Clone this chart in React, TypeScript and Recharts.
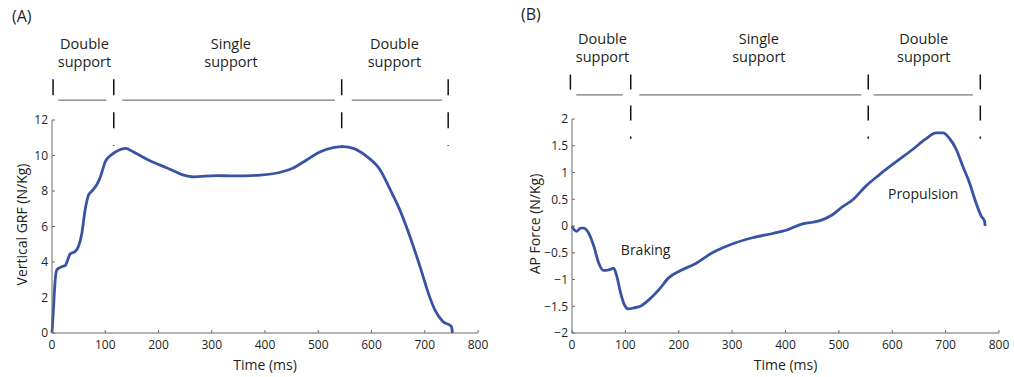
import { LineChart, Line, XAxis, YAxis, ReferenceLine, ReferenceDot } from "recharts";

const FONT = "'Open Sans', sans-serif";
const LINE_COLOR = "#3953a4";
const AXIS_COLOR = "#6b6b6b";
const TEXT_COLOR = "#231f20";

// (A) vertical ground reaction force
const grfTime = [0, 3, 6, 9, 13, 19, 25, 28, 34, 44, 50, 56, 62, 69, 75, 84, 91, 100, 112, 125, 138, 153, 184, 216, 247, 266, 309, 341, 391, 434, 453, 478, 503, 528, 547, 566, 591, 616, 634, 653, 672, 691, 709, 719, 734, 750, 752];
const grfValue = [0, 1.5, 3.0, 3.55, 3.65, 3.75, 3.8, 4.0, 4.45, 4.6, 4.9, 5.6, 6.9, 7.8, 8.0, 8.35, 8.8, 9.65, 10.05, 10.3, 10.4, 10.2, 9.7, 9.3, 8.9, 8.8, 8.87, 8.85, 8.9, 9.1, 9.3, 9.75, 10.2, 10.45, 10.5, 10.4, 9.95, 9.2, 8.15, 6.95, 5.45, 3.75, 2.05, 1.3, 0.65, 0.37, 0];

// (B) anterior-posterior force
const apTime = [0, 3, 9, 16, 22, 31, 41, 50, 59, 69, 78, 84, 91, 99, 106, 116, 128, 144, 163, 181, 200, 232, 263, 294, 338, 376, 401, 432, 451, 470, 488, 507, 526, 551, 576, 607, 638, 663, 682, 695, 707, 720, 732, 745, 757, 767, 773, 774];
const apValue = [0, -0.06, -0.1, -0.04, -0.04, -0.13, -0.38, -0.69, -0.83, -0.82, -0.79, -0.94, -1.25, -1.49, -1.55, -1.53, -1.5, -1.38, -1.19, -0.97, -0.85, -0.7, -0.5, -0.36, -0.22, -0.14, -0.08, 0.04, 0.07, 0.12, 0.21, 0.36, 0.49, 0.75, 0.96, 1.2, 1.43, 1.63, 1.74, 1.74, 1.64, 1.43, 1.12, 0.8, 0.43, 0.18, 0.09, 0];

const timeTicks = [0, 100, 200, 300, 400, 500, 600, 700, 800];
const grfTicks = [0, 2, 4, 6, 8, 10, 12];
const apTicks = [-2, -1.5, -1, -0.5, 0, 0.5, 1, 1.5, 2];

const phaseNames = [
  ["Double", "support"],
  ["Single", "support"],
  ["Double", "support"],
];
const grfPhaseEdges = [2, 116, 544, 744];
const grfPhaseBars = [[12, 102], [132, 531], [563, 732]];
const grfPhaseCenters = [61, 336, 643];
const apPhaseEdges = [-3, 110, 555, 765];
const apPhaseBars = [[8, 95], [126, 542], [565, 751]];
const apPhaseCenters = [57, 350, 659];

const grfData = grfTime.map((t, i) => ({ t, v: grfValue[i] }));
const apData = apTime.map((t, i) => ({ t, v: apValue[i] }));

const minus = (v: number) => (v < 0 ? "\u2212" + Math.abs(v) : String(v));

function yTitle(text: string, dx: number) {
  return (props: any) => {
    const vb = props.viewBox || {};
    const x = (vb.x ?? 0) + dx;
    const y = (vb.y ?? 0) + (vb.height ?? 0) / 2 - 2;
    return (
      <text
        transform={`translate(${x},${y}) rotate(-90)`}
        textAnchor="middle"
        dominantBaseline="central"
        fontFamily={FONT}
        fontSize={14}
        fill={TEXT_COLOR}
      >
        {text}
      </text>
    );
  };
}

function xTitle(text: string) {
  return (props: any) => {
    const vb = props.viewBox || {};
    const x = (vb.x ?? 0) + (vb.width ?? 0) / 2;
    const y = (vb.y ?? 0) + 37;
    return (
      <text x={x} y={y} textAnchor="middle" fontFamily={FONT} fontSize={14} fill={TEXT_COLOR}>
        {text}
      </text>
    );
  };
}

function phaseText(lines: string[]) {
  return (props: any) => {
    const vb = props.viewBox || {};
    const cx = (vb.x ?? 0) + (vb.width ?? 0) / 2;
    const cy = (vb.y ?? 0) + (vb.height ?? 0) / 2;
    return (
      <text textAnchor="middle" fontFamily={FONT} fontSize={14.5} fill={TEXT_COLOR}>
        <tspan x={cx} y={cy - 51}>{lines[0]}</tspan>
        <tspan x={cx} y={cy - 33}>{lines[1]}</tspan>
      </text>
    );
  };
}

type PanelProps = {
  data: { t: number; v: number }[];
  yTicks: number[];
  yLabel: string;
  yLabelDx: number;
  width: number;
  margin: { top: number; right: number; bottom: number; left: number };
  edges: number[];
  bars: number[][];
  centers: number[];
  barY: number;
  markTop: number;
  markBottom: number;
  firstBottom: number;
  dash: string;
  notes?: { x: number; y: number; text: string }[];
};

function Panel(p: PanelProps) {
  const yMin = p.yTicks[0];
  const yMax = p.yTicks[p.yTicks.length - 1];
  return (
    <LineChart width={p.width} height={377} data={p.data} margin={p.margin}>
      <XAxis
        dataKey="t"
        type="number"
        domain={[0, 800]}
        ticks={timeTicks}
        stroke={AXIS_COLOR}
        tickSize={-3}
        tickMargin={10}
        height={30}
        tick={{ fontFamily: FONT, fontSize: 12, fill: TEXT_COLOR }}
        label={xTitle("Time (ms)")}
      />
      <YAxis
        type="number"
        domain={[yMin, yMax]}
        ticks={p.yTicks}
        stroke={AXIS_COLOR}
        tickSize={-3}
        tickMargin={7}
        width={40}
        tickFormatter={minus}
        tick={{ fontFamily: FONT, fontSize: 12, fill: TEXT_COLOR }}
        label={yTitle(p.yLabel, p.yLabelDx)}
      />
      {p.edges.map((e, i) => (
        <ReferenceLine
          key={"e" + i}
          segment={[{ x: e, y: p.markTop }, { x: e, y: i === 0 ? p.firstBottom : p.markBottom }]}
          stroke="#111"
          strokeWidth={1.5}
          strokeDasharray={p.dash}
          ifOverflow="visible"
        />
      ))}
      {p.bars.map((b, i) => (
        <ReferenceLine
          key={"b" + i}
          segment={[{ x: b[0], y: p.barY }, { x: b[1], y: p.barY }]}
          stroke="#555"
          strokeWidth={1}
          ifOverflow="visible"
        />
      ))}
      {p.centers.map((c, i) => (
        <ReferenceDot
          key={"c" + i}
          x={c}
          y={p.barY}
          r={0}
          fill="none"
          stroke="none"
          ifOverflow="visible"
          label={phaseText(phaseNames[i])}
        />
      ))}
      {(p.notes || []).map((n, i) => (
        <ReferenceDot
          key={"n" + i}
          x={n.x}
          y={n.y}
          r={0}
          fill="none"
          stroke="none"
          ifOverflow="visible"
          label={{ value: n.text, position: "center", fontFamily: FONT, fontSize: 14, fill: TEXT_COLOR }}
        />
      ))}
      <Line
        type="monotone"
        dataKey="v"
        stroke={LINE_COLOR}
        strokeWidth={2.8}
        dot={false}
        isAnimationActive={false}
      />
    </LineChart>
  );
}

export default function App() {
  return (
    <div style={{ position: "absolute", left: 0, top: 0, width: 1014, height: 377, background: "#fff", overflow: "hidden", fontFamily: FONT }}>
      <div style={{ position: "absolute", left: 0, top: 0 }}>
        <Panel
          data={grfData}
          yTicks={grfTicks}
          yLabel="Vertical GRF (N/Kg)"
          yLabelDx={9.5}
          width={500}
          margin={{ top: 120, right: 22, bottom: 14, left: 12 }}
          edges={grfPhaseEdges}
          bars={grfPhaseBars}
          centers={grfPhaseCenters}
          barY={13.12}
          markTop={14.3}
          markBottom={10.53}
          firstBottom={13.4}
          dash="16 17"
        />
      </div>
      <div style={{ position: "absolute", left: 510, top: 0 }}>
        <Panel
          data={apData}
          yTicks={apTicks}
          yLabel="AP Force (N/Kg)"
          yLabelDx={2.5}
          width={504}
          margin={{ top: 119, right: 15, bottom: 14, left: 22 }}
          edges={apPhaseEdges}
          bars={apPhaseBars}
          centers={apPhaseCenters}
          barY={2.45}
          markTop={2.83}
          markBottom={1.63}
          firstBottom={2.55}
          dash="15 16"
          notes={[
            { x: 138, y: -0.44, text: "Braking" },
            { x: 658, y: 0.6, text: "Propulsion" },
          ]}
        />
      </div>
      <div style={{ position: "absolute", left: 12, top: 5, fontSize: 16, color: TEXT_COLOR }}>(A)</div>
      <div style={{ position: "absolute", left: 521, top: 3, fontSize: 16, color: TEXT_COLOR }}>(B)</div>
    </div>
  );
}
